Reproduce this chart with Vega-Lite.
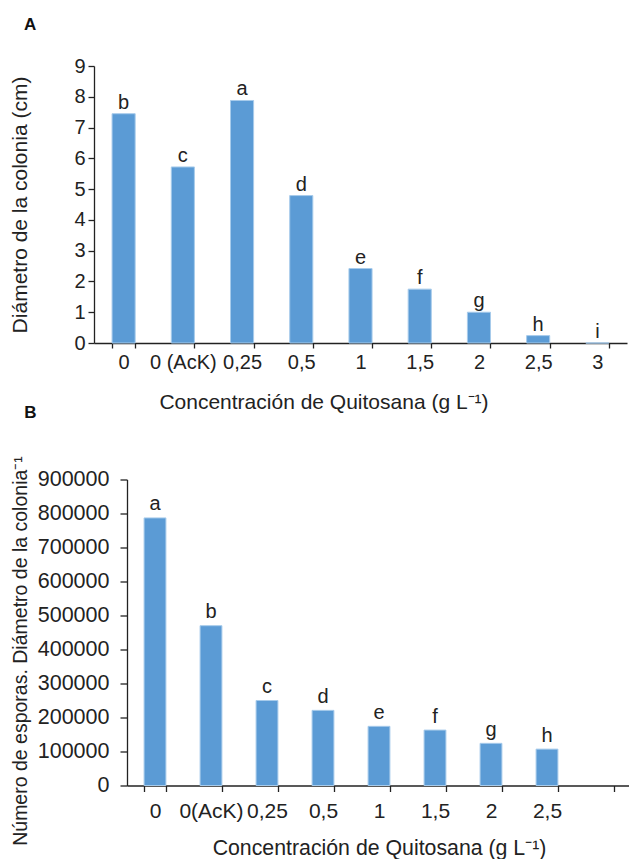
{
  "$schema": "https://vega.github.io/schema/vega-lite/v6.json",
  "background": "white",
  "padding": {"left": 9, "top": 15, "right": 0, "bottom": 0},
  "spacing": -8.5,
  "config": {
    "font": "Liberation Sans",
    "view": {"stroke": null},
    "axis": {
      "grid": false,
      "domainColor": "#222222",
      "tickColor": "#222222",
      "labelColor": "#222222",
      "titleColor": "#222222",
      "domainWidth": 1.3,
      "tickWidth": 1.3,
      "labelFont": "Liberation Sans",
      "titleFont": "Liberation Sans",
      "titleFontWeight": "normal"
    },
    "title": {"anchor": "start", "fontWeight": "bold", "fontSize": 17, "color": "#111111", "font": "Liberation Sans"}
  },
  "datasets": {
    "diametro": [
      {"concentracion": "0", "diametro": 7.45, "letra": "b"},
      {"concentracion": "0 (AcK)", "diametro": 5.72, "letra": "c"},
      {"concentracion": "0,25", "diametro": 7.88, "letra": "a"},
      {"concentracion": "0,5", "diametro": 4.79, "letra": "d"},
      {"concentracion": "1", "diametro": 2.42, "letra": "e"},
      {"concentracion": "1,5", "diametro": 1.75, "letra": "f"},
      {"concentracion": "2", "diametro": 1.0, "letra": "g"},
      {"concentracion": "2,5", "diametro": 0.24, "letra": "h"},
      {"concentracion": "3", "diametro": 0, "letra": "i"}
    ],
    "esporas": [
      {"concentracion": "0", "esporas": 787000, "letra": "a"},
      {"concentracion": "0(AcK)", "esporas": 470000, "letra": "b"},
      {"concentracion": "0,25", "esporas": 250000, "letra": "c"},
      {"concentracion": "0,5", "esporas": 221000, "letra": "d"},
      {"concentracion": "1", "esporas": 174000, "letra": "e"},
      {"concentracion": "1,5", "esporas": 163000, "letra": "f"},
      {"concentracion": "2", "esporas": 124000, "letra": "g"},
      {"concentracion": "2,5", "esporas": 107000, "letra": "h"},
      {"concentracion": "3", "esporas": null, "letra": ""}
    ]
  },
  "vconcat": [
    {
      "title": {"text": "A", "dx": 14, "offset": 22.5},
      "data": {"name": "diametro"},
      "width": 533,
      "height": 277,
      "encoding": {
        "x": {
          "field": "concentracion",
          "type": "nominal",
          "sort": null,
          "scale": {"paddingInner": 0.61, "paddingOuter": 0.305},
          "axis": {
            "labelAngle": 0,
            "tickBand": "extent",
            "tickSize": 5,
            "labelPadding": 4,
            "labelFontSize": 20,
            "title": "Concentración de Quitosana (g L⁻¹)",
            "titleFontSize": 21,
            "titlePadding": 19,
            "titleX": 229.5
          }
        },
        "y": {
          "field": "diametro",
          "type": "quantitative",
          "scale": {"domain": [0, 9], "nice": false},
          "axis": {
            "values": [0, 1, 2, 3, 4, 5, 6, 7, 8, 9],
            "tickSize": 6,
            "labelPadding": 3,
            "labelFontSize": 20,
            "title": "Diámetro de la colonia (cm)",
            "titleFontSize": 21,
            "titlePadding": 43
          }
        }
      },
      "layer": [
        {"mark": {"type": "bar", "color": "#5B9BD5", "stroke": "#A7CBEB", "strokeWidth": 1}},
        {
          "mark": {"type": "text", "baseline": "alphabetic", "dy": -5, "fontSize": 20, "color": "#222222"},
          "encoding": {"text": {"field": "letra"}}
        }
      ]
    },
    {
      "title": {"text": "B", "dx": 14, "offset": 33.7},
      "data": {"name": "esporas"},
      "width": 537,
      "height": 306,
      "encoding": {
        "x": {
          "field": "concentracion",
          "type": "nominal",
          "sort": null,
          "scale": {
            "domain": ["0", "0(AcK)", "0,25", "0,5", "1", "1,5", "2", "2,5", "3"],
            "paddingInner": 0.61,
            "paddingOuter": 0.305,
            "rangeMin": 33
          },
          "axis": {
            "labelAngle": 0,
            "tickBand": "extent",
            "tickSize": 6,
            "labelPadding": 9,
            "labelFontSize": 21,
            "labelExpr": "datum.label == '3' ? '' : datum.label",
            "title": "Concentración de Quitosana (g L⁻¹)",
            "titleFontSize": 21.3,
            "titlePadding": 16
          }
        },
        "y": {
          "field": "esporas",
          "type": "quantitative",
          "scale": {"domain": [0, 900000], "nice": false},
          "axis": {
            "values": [0, 100000, 200000, 300000, 400000, 500000, 600000, 700000, 800000, 900000],
            "format": "d",
            "offset": -33,
            "tickSize": 7,
            "labelPadding": 11,
            "labelFontSize": 21.5,
            "title": "Número de esporas. Diámetro de la colonia⁻¹",
            "titleFontSize": 19.5,
            "titlePadding": 7,
            "titleY": 171
          }
        }
      },
      "layer": [
        {"mark": {"type": "bar", "color": "#5B9BD5", "stroke": "#A7CBEB", "strokeWidth": 1}},
        {
          "mark": {"type": "text", "baseline": "alphabetic", "dy": -7.5, "fontSize": 20, "color": "#222222"},
          "encoding": {"text": {"field": "letra"}}
        }
      ]
    }
  ]
}
